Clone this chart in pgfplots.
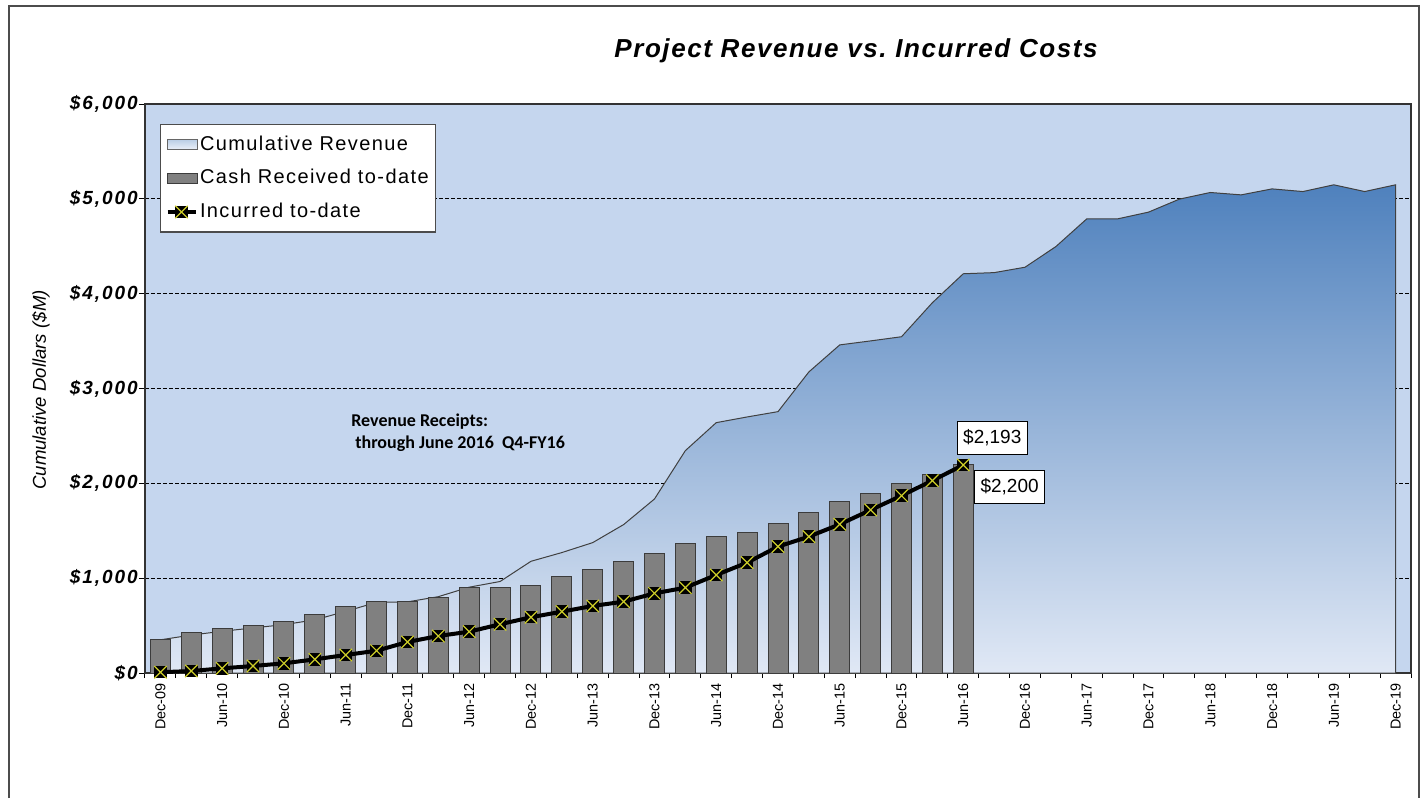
\documentclass[border=0pt]{standalone}
\usepackage{fontspec}
\setmainfont{Liberation Sans}
\newfontfamily\spaced[LetterSpace=10]{Liberation Sans}
\newfontfamily\legfont[LetterSpace=7]{Liberation Sans}
\newfontfamily\titlefont[LetterSpace=6]{Liberation Sans}
\newfontfamily\carlito{Carlito}
\usepackage{pgfplots}
\pgfplotsset{compat=1.18}
\definecolor{bgBlue}{RGB}{197,214,238}
\definecolor{areaTop}{RGB}{79,129,189}
\definecolor{areaBot}{RGB}{224,232,245}
\definecolor{barGray}{RGB}{128,128,128}
\definecolor{barEdge}{RGB}{60,60,60}
\definecolor{markYellow}{RGB}{205,205,40}
\pgfdeclareplotmark{sqx}{%
  \pgfpathrectangle{\pgfqpoint{-\pgfplotmarksize}{-\pgfplotmarksize}}{\pgfqpoint{2\pgfplotmarksize}{2\pgfplotmarksize}}%
  \pgfsetfillcolor{black}%
  \pgfusepathqfill
  \pgfsetstrokecolor{markYellow}%
  \pgfsetlinewidth{0.6pt}%
  \pgfpathmoveto{\pgfqpoint{-\pgfplotmarksize}{-\pgfplotmarksize}}%
  \pgfpathlineto{\pgfqpoint{\pgfplotmarksize}{\pgfplotmarksize}}%
  \pgfpathmoveto{\pgfqpoint{-\pgfplotmarksize}{\pgfplotmarksize}}%
  \pgfpathlineto{\pgfqpoint{\pgfplotmarksize}{-\pgfplotmarksize}}%
  \pgfusepathqstroke
}
\pgfplotsset{
  arealeg/.style={legend image code/.code={\shade[top color=areaTop!40!white, bottom color=areaBot!60!white, draw=black!60, line width=0.5pt] (0pt,-2.6pt) rectangle (15pt,2.6pt);}},
  barleg/.style={legend image code/.code={\draw[fill=barGray, draw=barEdge, line width=0.5pt] (0pt,-2.6pt) rectangle (15pt,2.6pt);}},
  lineleg/.style={legend image code/.code={\draw[mark repeat=2, mark phase=2, ##1] plot coordinates {(0pt,0pt) (7pt,0pt) (14pt,0pt)};}},
}
\begin{document}
\begin{tikzpicture}
\path[use as bounding box] (0,0) rectangle (712pt,399pt);
\draw[black!70, line width=0.75pt] (4.5pt,0pt) -- (4.5pt,396pt) -- (709.5pt,396pt) -- (709.5pt,0pt);
\node[font=\titlefont\fontsize{13}{15}\selectfont\bfseries\itshape] at (428pt,373.5pt) {Project Revenue vs.\ Incurred Costs};
\node[rotate=90, font=\fontsize{9.3}{11}\selectfont\itshape] at (20.5pt,204pt) {Cumulative Dollars (\$M)};
\begin{axis}[
  at={(72.5pt,62.5pt)}, anchor=south west,
  scale only axis, width=633pt, height=284.5pt,
  xmin=-0.5, xmax=40.5, ymin=0, ymax=6000,
  axis background/.style={fill=bgBlue},
  axis line style={black!80, line width=0.6pt},
  tick pos=left, tick align=outside,
  xtick={0,2,...,40},
  xticklabels={Dec-09,Jun-10,Dec-10,Jun-11,Dec-11,Jun-12,Dec-12,Jun-13,Dec-13,Jun-14,Dec-14,Jun-15,Dec-15,Jun-16,Dec-16,Jun-17,Dec-17,Jun-18,Dec-18,Jun-19,Dec-19},
  minor xtick={-0.5,0.5,...,40.5},
  major x tick style={draw=none},
  minor x tick style={black, line width=0.5pt},
  minor tick length=2.5pt, major tick length=3pt,
  ytick={0,1000,...,6000},
  yticklabels={{\$0},{\$1,000},{\$2,000},{\$3,000},{\$4,000},{\$5,000},{\$6,000}},
  ytick style={black, line width=0.5pt},
  ymajorgrids, grid style={black, line width=0.4pt, dash pattern=on 2pt off 1pt},
  xticklabel style={rotate=90, anchor=east, inner sep=2pt, font=\fontsize{7.2}{8.5}\selectfont},
  yticklabel style={inner sep=0.5pt, font=\spaced\fontsize{9.5}{11}\selectfont\bfseries\itshape},
  legend cell align=left,
  legend style={at={(0.0118,0.965)}, anchor=north west, draw=black!70, fill=white, line width=0.6pt,
    font=\legfont\fontsize{10}{12}\selectfont, row sep=2pt, inner sep=2.5pt,
    nodes={text height=7.3pt, text depth=1.6pt, inner ysep=3pt, inner xsep=1pt}},
]
\addplot[draw=black!75, line width=0.5pt, top color=areaTop, bottom color=areaBot, arealeg]
coordinates {
(0,350) (1,400) (2,440) (3,475) (4,510) (5,560) (6,650) (7,745) (8,750) (9,805)
(10,905) (11,965) (12,1178) (13,1270) (14,1375) (15,1565) (16,1835) (17,2345) (18,2640) (19,2700)
(20,2756) (21,3175) (22,3460) (23,3502) (24,3546) (25,3905) (26,4210) (27,4222) (28,4279) (29,4497)
(30,4789) (31,4789) (32,4860) (33,4997) (34,5067) (35,5042) (36,5105) (37,5077) (38,5148) (39,5077)
(40,5148)
} \closedcycle;
\addlegendentry{Cumulative Revenue}
\addplot[ybar, bar width=10pt, fill=barGray, draw=barEdge, line width=0.5pt, barleg]
coordinates {
(0,350) (1,430) (2,467) (3,506) (4,545) (5,612) (6,702) (7,755) (8,755) (9,797)
(10,900) (11,900) (12,925) (13,1020) (14,1095) (15,1176) (16,1255) (17,1361) (18,1440) (19,1478)
(20,1580) (21,1697) (22,1805) (23,1892) (24,2003) (25,2092) (26,2200)
};
\addlegendentry{Cash Received to-date}
\addplot[black, line width=2pt, mark=sqx, mark size=3.1pt, lineleg]
coordinates {
(0,8) (1,21) (2,49) (3,74) (4,102) (5,144) (6,190) (7,235) (8,327) (9,390)
(10,436) (11,514) (12,588) (13,647) (14,707) (15,752) (16,840) (17,900) (18,1034) (19,1164)
(20,1333) (21,1438) (22,1568) (23,1719) (24,1870) (25,2029) (26,2193)
};
\addlegendentry{Incurred to-date}
\node[draw=black, fill=white, line width=0.5pt, font=\fontsize{9.5}{11}\selectfont, inner xsep=3pt, inner ysep=0pt, minimum height=16.5pt] at (axis cs:26.94,2481) {\$2,193};
\node[draw=black, fill=white, line width=0.5pt, font=\fontsize{9.5}{11}\selectfont, inner xsep=3pt, inner ysep=0pt, minimum height=16.5pt] at (axis cs:27.5,1961) {\$2,200};
\node[anchor=north west, align=left, inner sep=0pt, font=\carlito\bfseries\fontsize{9}{11}\selectfont] at (axis cs:6.17,2742) {Revenue Receipts:\\\hspace{2pt}through June 2016\ \ Q4-FY16};
\end{axis}
\end{tikzpicture}
\end{document}
